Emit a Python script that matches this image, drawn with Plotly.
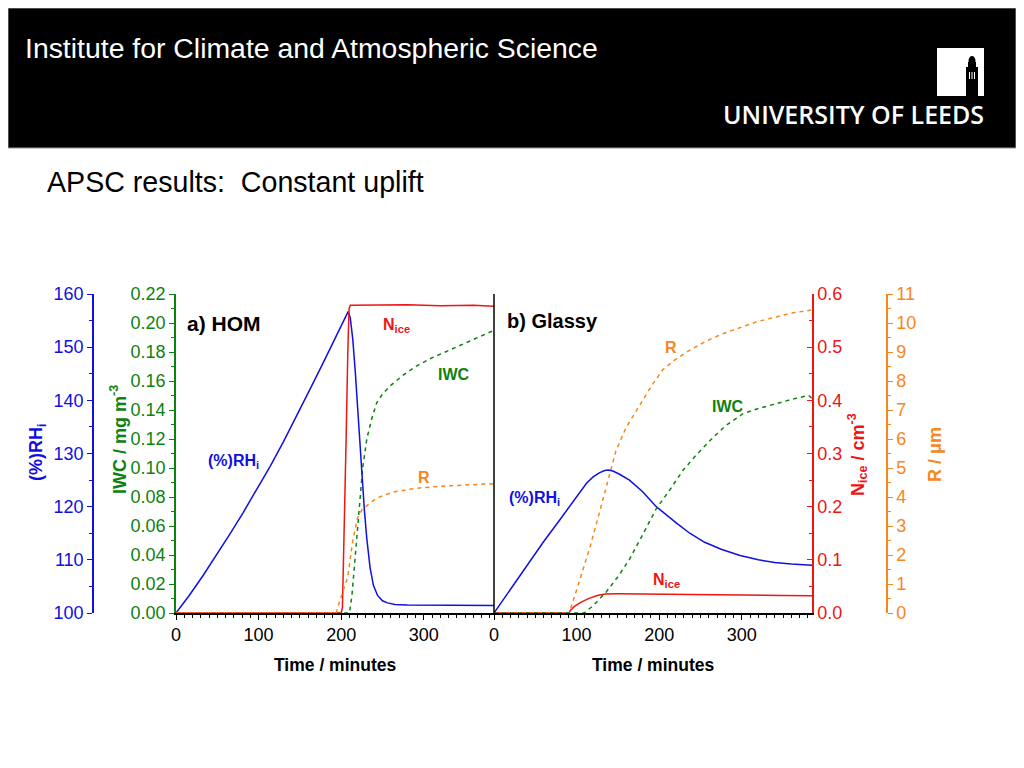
import plotly.graph_objects as go

# ---- data (time in minutes) ----
# a) HOM
t_rh_a = [0, 16, 33, 49, 65, 81, 98, 114, 130, 146, 162, 178, 194, 208.4, 211, 214, 217, 221, 225, 228, 231, 235, 239, 244, 250, 256, 265, 280, 385]
rh_a = [100, 103.3, 107.1, 110.9, 114.8, 118.8, 123.2, 127.6, 132.2, 137.0, 142.0, 147.0, 152.0, 156.7, 155.5, 151.5, 145.5, 136.0, 125.5, 119.5, 114.0, 108.5, 105.2, 103.3, 102.3, 101.9, 101.6, 101.5, 101.4]

t_nice_a = [0, 200, 201.5, 204, 206, 208, 209.5, 211, 240, 280, 320, 360, 385]
nice_a = [0, 0, 0.01, 0.17, 0.33, 0.49, 0.572, 0.579, 0.579, 0.580, 0.578, 0.579, 0.577]

t_iwc_a = [0, 210, 213, 216, 219, 222, 226, 231, 237, 243, 250, 260, 275, 290, 310, 330, 350, 370, 385]
iwc_a = [0, 0, 0.012, 0.032, 0.056, 0.078, 0.100, 0.120, 0.134, 0.145, 0.151, 0.157, 0.164, 0.170, 0.176, 0.181, 0.186, 0.191, 0.195]

t_r_a = [0, 194, 197, 202, 208, 214, 220, 225, 229, 235, 243, 252, 265, 290, 320, 350, 385]
r_a = [0, 0, 0.3, 0.7, 1.25, 2.5, 3.3, 3.55, 3.65, 3.8, 3.95, 4.07, 4.18, 4.3, 4.37, 4.42, 4.46]

# b) Glassy
t_rh_b = [0, 20, 40, 60, 80, 100, 112, 120, 128, 134, 138.3, 144, 152, 164, 180, 196.5, 210, 221, 237, 255, 275, 298, 320, 340, 360, 385]
rh_b = [100, 104.5, 109.0, 113.4, 117.6, 122.0, 124.4, 125.6, 126.4, 126.8, 126.9, 126.7, 126.1, 125.0, 122.8, 120.0, 118.2, 116.9, 115.0, 113.3, 112.0, 110.8, 110.0, 109.5, 109.2, 109.0]

t_nice_b = [0, 91, 92, 97, 105, 115, 125, 130, 135, 150, 200, 250, 300, 350, 385]
nice_b = [0, 0, 0.004, 0.012, 0.020, 0.0276, 0.033, 0.0348, 0.0357, 0.0360, 0.0358, 0.035, 0.034, 0.033, 0.0325]

t_iwc_b = [0, 109, 120, 135.8, 150, 164, 180, 196.5, 213, 229, 245, 261.6, 280, 302, 320, 342, 365, 381, 385]
iwc_b = [0, 0, 0.005, 0.0145, 0.025, 0.037, 0.054, 0.072, 0.085, 0.0986, 0.109, 0.119, 0.129, 0.1377, 0.141, 0.1446, 0.148, 0.150, 0.148]

t_r_b = [0, 91, 99, 107, 117, 127, 137, 147.7, 160, 175.7, 190, 204, 220, 237.5, 257, 277.8, 298, 318, 340, 362, 385]
r_b = [0, 0, 0.7, 1.4, 2.35, 3.4, 4.45, 5.6, 6.4, 7.11, 7.8, 8.38, 8.75, 9.07, 9.38, 9.64, 9.85, 10.04, 10.2, 10.35, 10.45]

BLUE = "#1010E0"
GREEN = "#0E820E"
RED = "#EE1515"
ORANGE = "#F7861C"
FONT = "Liberation Sans, Arial, sans-serif"

W, H = 1024, 768
# the page body adds an 8px margin round the figure, so slide pixels are shifted back by that
OFF = 8


def fx(x):
    return (x - OFF) / W


def fy(y):
    return 1 - (y - OFF) / H


fig = go.Figure()


def add_line(t, v, xa, ya, color, dashed=False):
    fig.add_trace(go.Scatter(
        x=t, y=v, xaxis=xa, yaxis=ya, mode="lines",
        line=dict(color=color, width=1.5, dash="4px,4px" if dashed else "solid"),
        showlegend=False, hoverinfo="skip"))


add_line(t_r_a, r_a, "x", "y8", ORANGE, True)
add_line(t_iwc_a, iwc_a, "x", "y", GREEN, True)
add_line(t_nice_a, nice_a, "x", "y7", RED)
add_line(t_rh_a, rh_a, "x", "y2", BLUE)

add_line(t_r_b, r_b, "x2", "y4", ORANGE, True)
add_line(t_iwc_b, iwc_b, "x2", "y6", GREEN, True)
add_line(t_nice_b, nice_b, "x2", "y3", RED)
add_line(t_rh_b, rh_b, "x2", "y5", BLUE)

dom_a = [fx(176), fx(494)]
dom_b = [fx(494), fx(812)]
dom_y = [fy(613), fy(294)]
xr = [0, 385]


def xaxis(dom, anchor, top=False, over=None):
    d = dict(domain=dom, range=xr, anchor=anchor, dtick=100, tick0=0, automargin=False,
             showline=True, linecolor="black", linewidth=1.5, showgrid=False, zeroline=False,
             ticks="inside" if top else "outside", ticklen=5, tickcolor="black",
             minor=dict(dtick=10, ticklen=3, ticks="inside" if top else "outside", tickcolor="black"),
             tickfont=dict(family=FONT, size=18, color="black"),
             showticklabels=not top)
    if top:
        d.update(side="top", overlaying=over)
    return d


def yaxis(rng, dtick, fmt, color, **kw):
    d = dict(range=rng, dtick=dtick, tickformat=fmt, showline=True, linecolor=color, linewidth=1.5,
             showgrid=False, zeroline=False, ticks="outside", ticklen=5, tickcolor=color,
             automargin=False,
             minor=dict(dtick=dtick / 2, ticklen=3, ticks="outside", tickcolor=color),
             tickfont=dict(family=FONT, size=18, color=color))
    d.update(kw)
    return d


def hidden(rng, over):
    return dict(range=rng, overlaying=over, visible=False, automargin=False)


fig.update_layout(
    width=W, height=H,
    margin=dict(l=0, r=0, t=0, b=0, autoexpand=False),
    paper_bgcolor="white", plot_bgcolor="white",
    xaxis=xaxis(dom_a, "y"),
    xaxis2=xaxis(dom_b, "y3"),
    xaxis3=xaxis(dom_a, "y", top=True, over="x"),
    xaxis4=xaxis(dom_b, "y3", top=True, over="x2"),
    yaxis=yaxis([0, 0.22], 0.02, ".2f", GREEN, domain=dom_y, anchor="x", side="left"),
    yaxis2=yaxis([100, 160], 10, "d", BLUE, overlaying="y", anchor="free", position=fx(93), side="left"),
    yaxis3=yaxis([0, 0.6], 0.1, ".1f", RED, domain=dom_y, anchor="x2", side="right", ticks="inside",
                 minor=dict(dtick=0.05, ticklen=3, ticks="inside", tickcolor=RED)),
    yaxis4=yaxis([0, 11], 1, "d", ORANGE, overlaying="y3", anchor="free", position=fx(887), side="right"),
    yaxis5=hidden([100, 160], "y3"),
    yaxis6=hidden([0, 0.22], "y3"),
    yaxis7=hidden([0, 0.6], "y"),
    yaxis8=hidden([0, 11], "y"),
    font=dict(family=FONT),
)

# divider between the two panels
fig.add_shape(type="line", xref="paper", yref="paper", x0=fx(494), x1=fx(494), y0=fy(613), y1=fy(294),
              line=dict(color="black", width=1.5))

# slide header
fig.add_shape(type="rect", xref="paper", yref="paper", x0=fx(8), x1=fx(1016), y0=fy(148), y1=fy(8),
              fillcolor="black", line=dict(color="#9a9a9a", width=1), layer="below")
fig.add_shape(type="rect", xref="paper", yref="paper", x0=fx(937), x1=fx(984), y0=fy(96), y1=fy(48),
              fillcolor="white", line=dict(width=0))
fig.add_shape(type="rect", xref="paper", yref="paper", x0=fx(966), x1=fx(978), y0=fy(96), y1=fy(67),
              fillcolor="black", line=dict(width=0))
fig.add_shape(type="rect", xref="paper", yref="paper", x0=fx(968), x1=fx(976), y0=fy(68), y1=fy(62),
              fillcolor="black", line=dict(width=0))
fig.add_shape(type="circle", xref="paper", yref="paper", x0=fx(968.5), x1=fx(975.5), y0=fy(66), y1=fy(56),
              fillcolor="black", line=dict(width=0))
for wx in [969.5, 972, 974.5]:
    fig.add_shape(type="line", xref="paper", yref="paper", x0=fx(wx), x1=fx(wx), y0=fy(79), y1=fy(72),
                  line=dict(color="white", width=1))


def note(text, x, y, size=16, color="black", bold=True, anchor="left", angle=0, family=FONT):
    fig.add_annotation(text="<b>%s</b>" % text if bold else text, xref="paper", yref="paper",
                       x=fx(x), y=fy(y), xanchor=anchor, yanchor="middle", showarrow=False,
                       textangle=angle, font=dict(family=family, size=size, color=color))


note("Institute for Climate and Atmospheric Science", 23, 48, 28.4, "white", bold=False)
fig.add_annotation(text="UNIVERSITY OF LEEDS", xref="paper", yref="paper", x=fx(986), y=fy(114),
                   xanchor="right", yanchor="middle", showarrow=False,
                   font=dict(family="Open Sans", size=25, color="white", weight=600))
note("APSC results:\u00a0\u00a0Constant uplift", 45, 182, 28.6, "black", bold=False)

# panel labels
note("a) HOM", 185, 323, 21)
note("b) Glassy", 505, 321, 20)

# curve labels
note("N<sub>ice</sub>", 381, 325, 16, RED)
note("IWC", 436, 374, 16, GREEN)
note("(%)RH<sub>i</sub>", 206, 461, 16, BLUE)
note("R", 416, 477, 16, ORANGE)
note("R", 663, 348, 16, ORANGE)
note("IWC", 710, 406, 16, GREEN)
note("(%)RH<sub>i</sub>", 507, 498, 16, BLUE)
note("N<sub>ice</sub>", 651, 580, 16, RED)

# axis titles
note("(%)RH<sub>i</sub>", 37, 452, 18, BLUE, anchor="center", angle=-90)
note("IWC / mg m<sup>-3</sup>", 118, 440, 18, GREEN, anchor="center", angle=-90)
note("N<sub>ice</sub> / cm<sup>-3</sup>", 857, 455, 18, RED, anchor="center", angle=-90)
note("R / \u03bcm", 935, 455, 18, ORANGE, anchor="center", angle=-90)
note("Time / minutes", 335, 665, 17.5, anchor="center")
note("Time / minutes", 653, 665, 17.5, anchor="center")

fig.write_html("out.html")
